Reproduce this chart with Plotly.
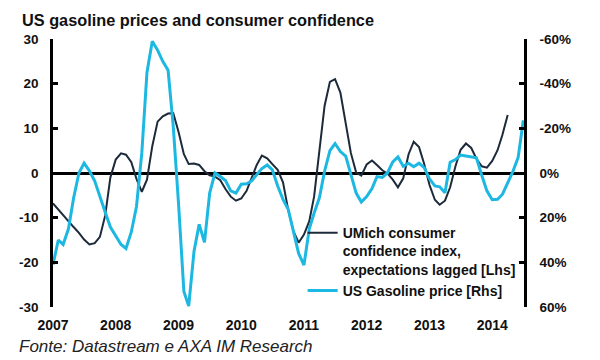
import plotly.graph_objects as go
import pandas as pd

# UMich consumer confidence index, expectations lagged (left axis), monthly from Jan 2007
umich = [-6.8, -8.2, -9.5, -10.8, -12.1, -13.4, -14.9, -16.0, -15.7, -14.3,
         -9.5, -1.0, 3.0, 4.4, 4.1, 2.4, -1.3, -4.2, -1.5, 6.0,
         11.5, 12.7, 13.3, 13.4, 9.2, 4.2, 2.0, 2.1, 1.8, 0.4,
         -0.5, -0.8, -1.6, -3.6, -5.3, -6.2, -5.7, -4.0, -1.4, 1.8,
         3.9, 3.3, 2.0, 0.7, -2.1, -8.2, -13.0, -15.6, -13.8, -10.8,
         -5.3, 4.6, 15.0, 20.4, 21.0, 18.0, 11.5, 4.5, 0.1, -0.6,
         1.9, 2.8, 1.8, 0.6, -0.1, -1.5, -3.2, -1.2, 4.2, 7.0,
         5.8, 2.0, -2.7, -6.0, -7.1, -6.2, -3.2, 1.5, 5.2, 6.6,
         5.6, 3.2, 1.5, 1.2, 2.7, 5.1, 8.5, 13.0]

# US gasoline price, % (right axis, inverted), monthly from Jan 2007
gasoline = [41, 30, 32, 25, 11.2, 0, -4.4, -1, 3.6, 11,
            17.6, 24.2, 28.4, 32, 33.8, 26.4, 15, -9, -45, -59,
            -55, -50, -46, -21, 14, 53, 59.6, 35, 23, 31,
            9, 0, 1.6, 3.4, 8, 9, 5, 4.8, 3.6, 0.8,
            -2, -3.6, -1.4, 5.8, 11.8, 16.2, 27, 36, 41.2, 25,
            18, 11, -0.8, -10, -13.2, -9.6, -7.6, 0, 9, 13,
            10.6, 7, 1.6, 2, 0, -5, -7.2, -3, -4.4, -2.8,
            -4.4, -2.4, 2.6, 5.8, 6.2, 8.8, -4.8, -6, -8, -7.6,
            -7.2, -6.8, 1, 8, 12, 11.8, 9.6, 4.8, -0.6, -7, -23.6]

years = list(range(2007, 2015))
left_ticks = [-30, -20, -10, 0, 10, 20, 30]
right_ticks = [-60, -40, -20, 0, 20, 40, 60]

umich_dates = pd.date_range("2007-01-01", periods=len(umich), freq="MS")
gas_dates = pd.date_range("2007-01-01", periods=len(gasoline), freq="MS")

DARK = "#1c2a3a"
CYAN = "#1db8e2"
FONT = "Liberation Sans, Arial, sans-serif"
x_range = ["2007-01-01", "2014-07-05"]
year_vals = [f"{y}-01-01" for y in years]

# plot area in figure pixels (page adds an 8px body margin)
L, R, T, B = 45, 84, 31, 61
PW, PH = 600 - L - R, 360 - T - B

fig = go.Figure()
fig.add_trace(go.Scatter(
    x=umich_dates, y=umich, mode="lines",
    name="<b>UMich consumer<br>confidence index,<br>expectations lagged [Lhs]</b>",
    line=dict(color=DARK, width=2), yaxis="y"))
fig.add_trace(go.Scatter(
    x=gas_dates, y=gasoline, mode="lines",
    name="<b>US Gasoline price [Rhs]</b>",
    line=dict(color=CYAN, width=3), yaxis="y2"))
# helper (empty) traces so the crossing tick axes are rendered
for xa in ["x2", "x3"]:
    fig.add_trace(go.Scatter(x=[None], y=[None], xaxis=xa, yaxis="y",
                             showlegend=False, hoverinfo="skip"))

fig.update_layout(
    width=600, height=360,
    margin=dict(l=L, r=R, t=T, b=B),
    paper_bgcolor="white", plot_bgcolor="white",
    font=dict(family=FONT, color="#111"),
    showlegend=True,
    title=dict(text="<b>US gasoline prices and consumer confidence</b>",
               font=dict(size=16.3, color="#111", family=FONT),
               xref="container", x=14/600, xanchor="left",
               yref="container", y=1 - 12/360, yanchor="middle"),
    xaxis=dict(range=x_range, tickvals=year_vals, ticktext=[f"<b>{y}</b>" for y in years],
               showgrid=False, zeroline=False, showline=False, ticks="",
               tickfont=dict(size=14, color="#111"), ticklabelstandoff=8),
    xaxis2=dict(overlaying="x", anchor="free", position=0.5, range=x_range,
                tickvals=year_vals[1:], showticklabels=False, ticks="outside",
                ticklen=4, tickwidth=2.5, tickcolor="black", showgrid=False,
                zeroline=False, showline=False),
    xaxis3=dict(overlaying="x", anchor="free", position=0.5, range=x_range,
                tickvals=year_vals[1:], showticklabels=False, ticks="inside",
                ticklen=4, tickwidth=2.5, tickcolor="black", showgrid=False,
                zeroline=False, showline=False),
    yaxis=dict(range=[-30, 30], tickvals=left_ticks,
               ticktext=[f"<b>{v}</b>" for v in left_ticks],
               showgrid=False, zeroline=True, zerolinecolor="black", zerolinewidth=3,
               showline=True, linecolor="black", linewidth=2.5,
               ticks="inside", ticklen=5, tickwidth=2.5, tickcolor="black",
               tickfont=dict(size=13.5, color="#111"), ticklabelstandoff=9),
    yaxis2=dict(overlaying="y", side="right", range=[60, -60], tickvals=right_ticks,
                ticktext=[f"<b>{v}%</b>" for v in right_ticks],
                showgrid=False, zeroline=False,
                showline=True, linecolor="black", linewidth=2.5,
                ticks="inside", ticklen=5, tickwidth=2.5, tickcolor="black",
                tickfont=dict(size=13.5, color="#111"), ticklabelstandoff=10),
    legend=dict(x=0.53, y=0.335, xanchor="left", yanchor="top",
                bgcolor="rgba(0,0,0,0)", valign="top",
                font=dict(size=14, color="#111", family=FONT),
                itemwidth=30, tracegroupgap=4),
    annotations=[dict(text="<i>Fonte: Datastream e AXA IM Research</i>",
                      xref="paper", yref="paper", x=(9 - L) / PW, y=-(338 - (360 - B)) / PH,
                      xanchor="left", yanchor="middle", showarrow=False,
                      font=dict(size=17, color="#222", family=FONT))],
)

fig.write_html("out.html")
